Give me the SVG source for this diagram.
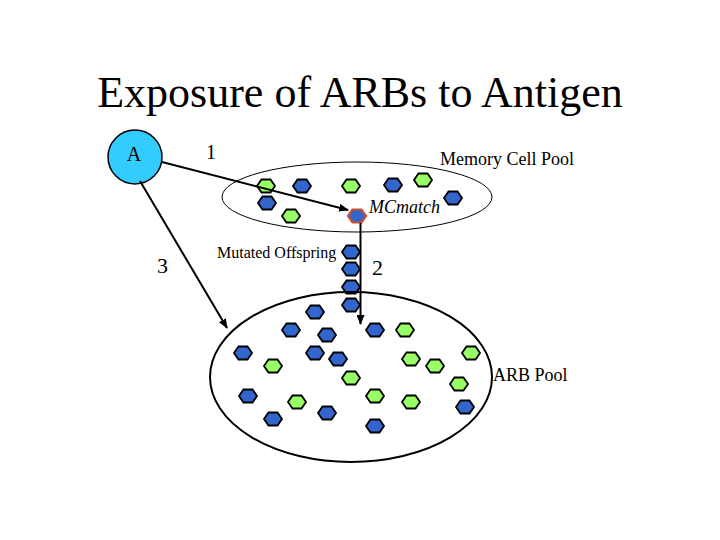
<svg xmlns="http://www.w3.org/2000/svg" xmlns:xlink="http://www.w3.org/1999/xlink" width="720" height="540" viewBox="0 0 720 540">
  <style>
    text { font-family: "Liberation Serif", "Times New Roman", serif; fill: #000; }
    .b { fill: #3366cc; }
    .g { fill: #99ff66; }
    .hx { stroke: #000; stroke-width: 1.8; }
    .conn { stroke: #000; stroke-width: 2; fill: none; }
  </style>
  <defs>
    <polygon id="hex" class="hx" points="-9,0 -4.5,-6.5 4.5,-6.5 9,0 4.5,6.5 -4.5,6.5"/>
    <marker id="arr" markerWidth="10" markerHeight="8" refX="9" refY="4" orient="auto" markerUnits="userSpaceOnUse">
      <path d="M0,0 L10,4 L0,8 Z" fill="#000"/>
    </marker>
  </defs>
  <rect width="720" height="540" fill="#fff"/>

  <text id="title" x="360" y="107" font-size="44" text-anchor="middle">Exposure of ARBs to Antigen</text>

  <g id="memory-pool">
    <ellipse cx="357" cy="197" rx="135" ry="35" fill="none" stroke="#000" stroke-width="1"/>
    <use xlink:href="#hex" class="g" x="266" y="186"/>
    <use xlink:href="#hex" class="b" x="302" y="186"/>
    <use xlink:href="#hex" class="g" x="351" y="186"/>
    <use xlink:href="#hex" class="b" x="393" y="185"/>
    <use xlink:href="#hex" class="g" x="423" y="180"/>
    <use xlink:href="#hex" class="b" x="453" y="198"/>
    <use xlink:href="#hex" class="b" x="267" y="203"/>
    <use xlink:href="#hex" class="g" x="291" y="216"/>
    <text x="440" y="165" font-size="18">Memory Cell Pool</text>
  </g>

  <g id="mcmatch">
    <polygon points="348,216 352.5,209.5 361.5,209.5 366,216 361.5,222.5 352.5,222.5" fill="#3366cc" stroke="#c8502a" stroke-width="2.2"/>
    <text x="369" y="213" font-size="18" font-style="italic">MCmatch</text>
  </g>

  <g id="antigen">
    <circle cx="135" cy="157" r="27" fill="#33ccff" stroke="#000" stroke-width="1.5"/>
    <text x="134" y="161" font-size="20" text-anchor="middle">A</text>
  </g>

  <g id="offspring">
    <use xlink:href="#hex" class="b" x="351" y="252"/>
    <use xlink:href="#hex" class="b" x="351" y="269"/>
    <use xlink:href="#hex" class="b" x="351" y="287"/>
    <use xlink:href="#hex" class="b" x="351" y="305"/>
    <text x="217" y="258" font-size="16">Mutated Offspring</text>
  </g>

  <g id="arb-pool">
    <ellipse cx="351" cy="377" rx="141" ry="85" fill="none" stroke="#000" stroke-width="2"/>
    <use xlink:href="#hex" class="b" x="315" y="312"/>
    <use xlink:href="#hex" class="b" x="291" y="330"/>
    <use xlink:href="#hex" class="b" x="327" y="335"/>
    <use xlink:href="#hex" class="b" x="375" y="330"/>
    <use xlink:href="#hex" class="g" x="405" y="330"/>
    <use xlink:href="#hex" class="b" x="243" y="353"/>
    <use xlink:href="#hex" class="b" x="315" y="353"/>
    <use xlink:href="#hex" class="b" x="338" y="359"/>
    <use xlink:href="#hex" class="g" x="411" y="359"/>
    <use xlink:href="#hex" class="g" x="435" y="366"/>
    <use xlink:href="#hex" class="g" x="471" y="353"/>
    <use xlink:href="#hex" class="g" x="273" y="366"/>
    <use xlink:href="#hex" class="g" x="351" y="378"/>
    <use xlink:href="#hex" class="g" x="459" y="384"/>
    <use xlink:href="#hex" class="b" x="248" y="396"/>
    <use xlink:href="#hex" class="g" x="297" y="402"/>
    <use xlink:href="#hex" class="g" x="375" y="396"/>
    <use xlink:href="#hex" class="g" x="411" y="402"/>
    <use xlink:href="#hex" class="b" x="465" y="407"/>
    <use xlink:href="#hex" class="b" x="327" y="413"/>
    <use xlink:href="#hex" class="b" x="273" y="419"/>
    <use xlink:href="#hex" class="b" x="375" y="426"/>
    <text x="493" y="381" font-size="18">ARB Pool</text>
  </g>

  <g id="connectors">
    <line class="conn" x1="162" y1="162" x2="348" y2="210" marker-end="url(#arr)"/>
    <line class="conn" x1="360.5" y1="223" x2="360.5" y2="324" marker-end="url(#arr)"/>
    <line class="conn" x1="140" y1="181" x2="227" y2="328" marker-end="url(#arr)"/>
  </g>

  <g id="labels">
    <text x="206" y="159" font-size="20">1</text>
    <text x="372" y="275" font-size="22">2</text>
    <text x="157" y="273" font-size="22">3</text>
  </g>
</svg>
